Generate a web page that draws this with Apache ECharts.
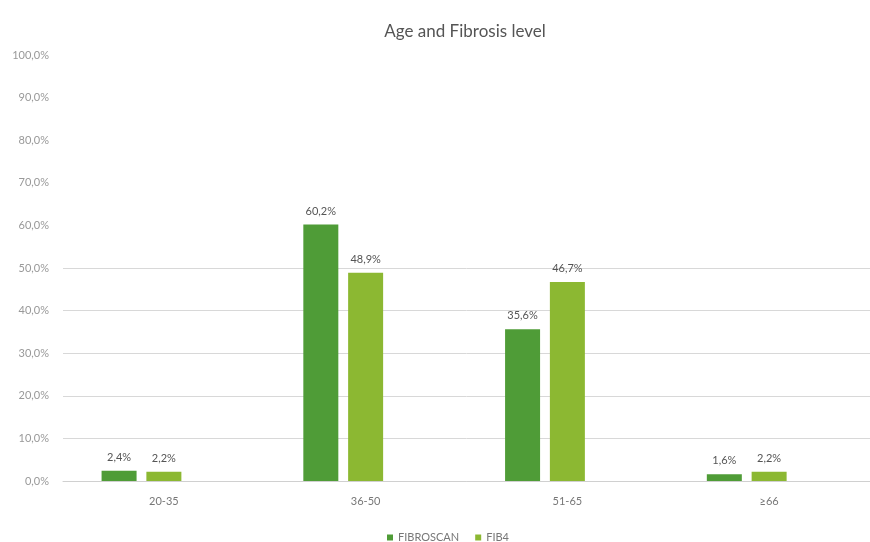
<!DOCTYPE html>
<html>
<head>
<meta charset="utf-8">
<script src="https://cdn.jsdelivr.net/npm/echarts@6/dist/echarts.min.js"></script>
<style>html,body{margin:0;padding:0;background:#fff;}#c{width:870px;height:542px;}</style>
</head>
<body>
<div id="c"></div>
<script>
const categories = ['20-35', '36-50', '51-65', '≥66'];
const fibroscan = [2.4, 60.2, 35.6, 1.6];
const fib4 = [2.2, 48.9, 46.7, 2.2];
const spacer = [null, null, null, null];
const yTicks = [0, 10, 20, 30, 40, 50, 60, 70, 80, 90, 100];

const fmt = v => v.toFixed(1).replace('.', ',') + '%';
const font = 'Lato, "DejaVu Sans", sans-serif';
const chart = echarts.init(document.getElementById('c'));
chart.setOption({
  animation: false,
  backgroundColor: '#fff',
  title: {
    text: 'Age and Fibrosis level',
    left: 460, top: 18, textAlign: 'center',
    textStyle: {fontFamily: font, fontSize: 17, fontWeight: 'normal', color: '#555'}
  },
  legend: {
    data: ['FIBROSCAN', 'FIB4'],
    top: 527, left: 382,
    itemWidth: 6, itemHeight: 6, itemGap: 16, icon: 'rect',
    textStyle: {fontFamily: font, fontSize: 11, color: '#777'}
  },
  grid: {left: 63, top: 55, width: 816, bottom: 61},
  xAxis: {
    type: 'category', data: categories,
    axisLine: {lineStyle: {color: '#d0d0d0'}},
    axisTick: {show: false},
    axisLabel: {fontFamily: font, fontSize: 11, color: '#777', margin: 15}
  },
  yAxis: {
    type: 'value', min: 0, max: 100, interval: 10,
    axisLine: {show: false}, axisTick: {show: false},
    axisLabel: {fontFamily: font, fontSize: 11, color: '#999', margin: 14,
      formatter: v => yTicks.includes(v) ? fmt(v) : ''},
    splitLine: {lineStyle: {color: ['#d8d8d8','#d8d8d8','#d8d8d8','#d8d8d8','#d8d8d8','#d8d8d8','rgba(0,0,0,0)','rgba(0,0,0,0)','rgba(0,0,0,0)','rgba(0,0,0,0)','rgba(0,0,0,0)']}}
  },
  series: [
    {name: 'FIBROSCAN', type: 'bar', data: fibroscan, barWidth: 35, barGap: '28%',
     itemStyle: {color: '#4f9c37'},
     label: {show: true, position: 'top', distance: 8, formatter: p => fmt(p.value),
       fontFamily: font, fontSize: 11, color: '#555'}},
    {name: 'FIB4', type: 'bar', data: fib4, barWidth: 35, barGap: '28%',
     itemStyle: {color: '#8cb832'},
     label: {show: true, position: 'top', distance: 8, formatter: p => fmt(p.value),
       fontFamily: font, fontSize: 11, color: '#555'}},
    {name: 'spacer', type: 'bar', data: spacer, barWidth: 35, barGap: '28%', silent: true}
  ]
});
</script>
</body>
</html>
